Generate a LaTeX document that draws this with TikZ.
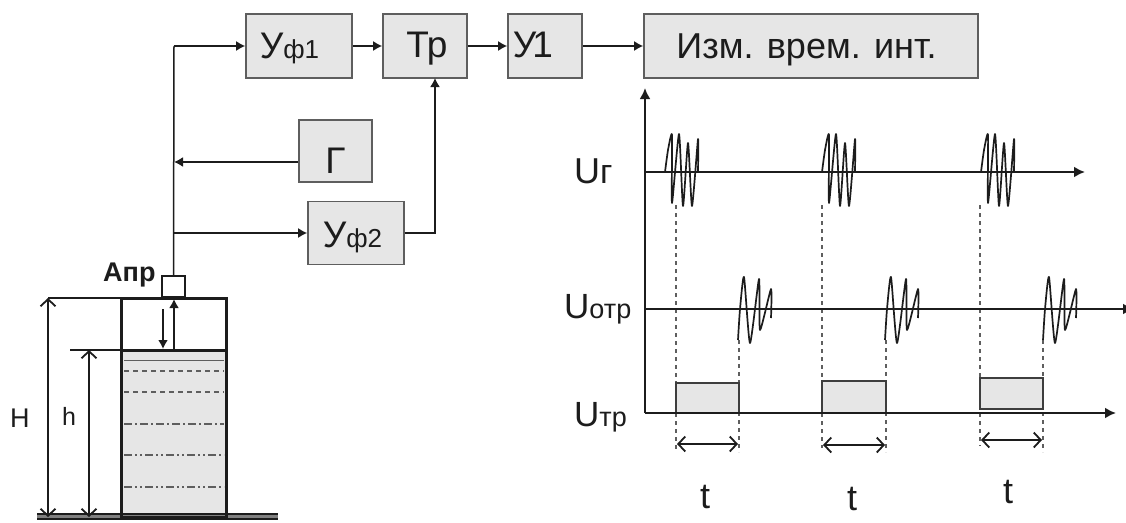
\documentclass[tikz,border=0pt]{standalone}
\usepackage{fontspec}
\setmainfont{Liberation Sans}
\usetikzlibrary{arrows.meta}
\newcommand\fsz[1]{\fontsize{#1}{#1}\selectfont}
\newcommand\onbase[2]{\raisebox{-#1pt}[0pt][0pt]{#2}}
\definecolor{boxfill}{HTML}{E6E6E6}
\definecolor{boxedge}{HTML}{5E5E5E}
\definecolor{ink}{HTML}{1C1C1C}
\tikzset{
  blockbox/.style={draw=boxedge,fill=boxfill,line width=1.6pt,inner sep=0pt,text=ink,font=\fsz{37}},
  link/.style={draw=ink,line width=1.6pt,-{Latex[length=9pt,width=10pt]}},
  plainlink/.style={draw=ink,line width=1.5pt},
  axisline/.style={draw=ink,line width=2.2pt},
  axisarrow/.style={axisline,-{Latex[length=11pt,width=11pt]}},
  wave/.style={draw=ink,line width=1.7pt,line join=round},
  guide/.style={draw=boxedge,line width=1.5pt,dash pattern=on 4pt off 4pt},
  barb/.style={draw=ink,line width=1.8pt,{Straight Barb[length=7pt,width=15pt,line width=1.8pt]}-{Straight Barb[length=7pt,width=15pt,line width=1.8pt]}},
  pulse/.style={draw=ink!85,fill=boxfill,line width=1.7pt},
  wall/.style={draw=ink,line width=3pt,line cap=rect},
  lbl/.style={inner sep=0pt,anchor=base west,text=ink},
}
\newcommand\ugburst{(0,0) (3,-22) (7,-37) (7,31) (14,-38) (18,34) (23,-29) (27,34) (33,-33) (33,0)}
\newcommand\uoburst{(0,31) (2,0) (6,-32) (12,34) (21,-30) (22,21) (33,-20) (33,9)}
\begin{document}
\begin{tikzpicture}[x=1pt,y=-1pt]
\path[fill=white,use as bounding box] (0,0) rectangle (1126,522);
\clip (0,0) rectangle (1126,522);
% blocks
\node[blockbox,minimum width=106pt,minimum height=64pt] (uf1) at (299,46) {\onbase{12}{У{\fsz{26}ф1}}\hspace*{19pt}};
\node[blockbox,minimum width=84pt,minimum height=64pt] (tr) at (425,46) {\hspace*{4pt}\onbase{11}{Тр}};
\node[blockbox,minimum width=74pt,minimum height=64pt] (u1) at (545,46) {\onbase{11}{У\kern-4pt 1}\hspace*{24pt}};
\node[blockbox,font=\fsz{36},minimum width=334pt,minimum height=64pt] (izm) at (811,46) {\onbase{12}{Изм. врем. инт.}\hspace*{9pt}};
\node[blockbox,minimum width=73pt,minimum height=62pt] (gen) at (335.5,151) {\onbase{22}{Г}};
\node[blockbox,minimum width=96pt,minimum height=63pt] (uf2) at (356,233) {\onbase{14}{У{\fsz{26}ф2}}\hspace*{7pt}};
% tank
\fill[boxfill] (121,350) rectangle (226,517);
\foreach \yy/\pat/\wd in {360/{on 30pt off 0pt}/1.0,371/{on 5pt off 4pt}/1.6,392/{on 5pt off 4pt}/1.6,424/{on 8pt off 3pt on 2pt off 3pt}/1.6,455/{on 8pt off 3pt on 2pt off 3pt on 2pt off 3pt}/1.6,487/{on 8pt off 3pt on 2pt off 3pt on 2pt off 3pt}/1.6}
  \draw[draw=boxedge,line width=\wd pt,dash pattern/.expanded=\pat] (124,\yy) -- (224,\yy);
\fill[gray] (37,514) rectangle (278,519);
\draw[draw=ink,line width=1.5pt] (37,514) -- (278,514);
\draw[draw=ink,line width=1.5pt] (37,519) -- (278,519);
\draw[wall] (121,517) -- (121,298) -- (226,298) -- (226,517) (121,350) -- (226,350) (121,517)--(226,517);
\node[draw=ink,fill=white,line width=2.5pt,minimum width=23pt,minimum height=21pt,inner sep=0pt] (apr) at (173.5,286.5) {};
\node[lbl,font=\bfseries\fsz{27}] (aprt) at (103,281) {Апр};
% bus
\coordinate (bustop) at (174,46);
\coordinate (busg) at (174,162);
\coordinate (busb) at (174,233);
\coordinate (trin) at (435,78);
\draw[plainlink] (apr.north) -- (bustop);
\draw[link] (bustop) -- (uf1.west);
\draw[link] (uf1.east) -- (tr.west);
\draw[link] (tr.east) -- (u1.west);
\draw[link] (u1.east) -- (izm.west);
\draw[link] (gen.west |- busg) -- (busg);
\draw[link] (busb) -- (uf2.west);
\draw[link] (uf2.east) -| (trin);
% tank arrows and dimensions
\coordinate (dna) at (163,309); \coordinate (dnb) at (163,349);
\coordinate (upa) at (174,350); \coordinate (upb) at (174,299);
\draw[link,line width=2pt] (dna) -- (dnb);
\draw[link,line width=2pt] (upa) -- (upb);
\coordinate (ht) at (48,298); \coordinate (hb) at (48,517);
\coordinate (lt) at (89,350); \coordinate (lb) at (89,517);
\draw[plainlink] (ht) -- (120,298);
\draw[plainlink] (70,350) -- (120,350);
\draw[barb] (ht) -- (hb);
\draw[barb] (lt) -- (lb);
\node[lbl,font=\fsz{27}] (ht1) at (10,427) {H};
\node[lbl,font=\fsz{25}] (ht2) at (62,425) {h};
% guides
\foreach \xx/\ya/\yb in {676/205/450,739/340/452,822/205/448,886/340/452,980/205/446,1043/340/452}
  \draw[guide] (\xx,\ya) -- (\xx,\yb);
% pulses
\draw[pulse] (676,413) rectangle (739,383);
\draw[pulse] (822,413) rectangle (886,381);
\draw[pulse] (980,409) rectangle (1043,378);
% axes
\coordinate (o) at (645,413); \coordinate (ytip) at (645,88);
\coordinate (ga) at (645,172); \coordinate (gb) at (1085,172);
\coordinate (oa) at (645,309); \coordinate (ob) at (1134,309);
\coordinate (ta) at (645,413); \coordinate (tb) at (1116,413);
\draw[axisarrow] (o) -- (ytip);
\draw[axisarrow] (ga) -- (gb);
\draw[axisarrow] (oa) -- (ob);
\draw[axisarrow] (ta) -- (tb);
% waves
\foreach \xx in {665,822,981}
  \draw[wave,shift={(\xx,172)}] plot[smooth,tension=0.35] coordinates {\ugburst};
\foreach \xx in {738,885,1043}
  \draw[wave,shift={(\xx,309)}] plot[smooth,tension=0.35] coordinates {\uoburst};
% time arrows
\coordinate (a1) at (677,444); \coordinate (a2) at (738,444);
\coordinate (b1) at (823,445); \coordinate (b2) at (885,445);
\coordinate (c1) at (981,440); \coordinate (c2) at (1042,440);
\draw[barb] (a1) -- (a2);
\draw[barb] (b1) -- (b2);
\draw[barb] (c1) -- (c2);
% labels
\node[lbl,font=\fsz{36}] (lg) at (574,183) {U{\fsz{34}г}};
\node[lbl,font=\fsz{35}] (lo) at (564,318) {U{\fsz{27}отр}};
\node[lbl,font=\fsz{35}] (lt1) at (574,426) {U{\fsz{27}тр}};
\node[lbl,font=\fsz{36},anchor=base] (t1) at (705,508) {t};
\node[lbl,font=\fsz{36},anchor=base] (t2) at (852,510) {t};
\node[lbl,font=\fsz{36},anchor=base] (t3) at (1008,503) {t};
\end{tikzpicture}
\end{document}
